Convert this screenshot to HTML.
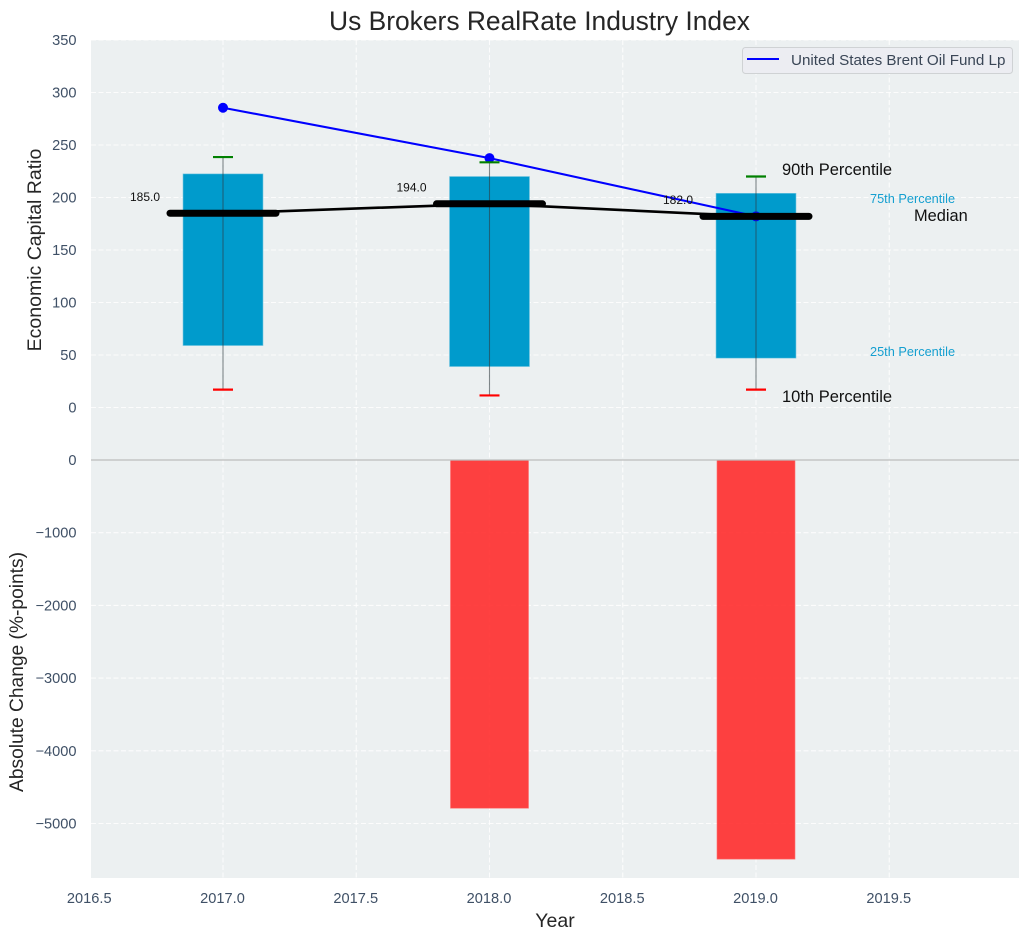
<!DOCTYPE html>
<html lang="en">
<head>
<meta charset="utf-8">
<title>Us Brokers RealRate Industry Index</title>
<style>
html,body{margin:0;padding:0;background:#fff;}
svg{display:block;font-family:"Liberation Sans",Arial,sans-serif;}
</style>
</head>
<body>
<svg id="chart" xmlns="http://www.w3.org/2000/svg" width="1029" height="940" viewBox="0 0 1029 940">
  <rect x="91" y="40" width="928" height="420" fill="#ecf0f1"/>
  <rect x="91" y="460" width="928" height="418" fill="#ecf0f1"/>
  <g id="grid"></g>
  <g id="bars"></g>
  <g id="changes"></g>
  <line x1="91" x2="1019" y1="460" y2="460" stroke="#bdbdbd" stroke-width="1.3"/>
  <g id="series"></g>
  <g id="whiskers"></g>
  <g id="medians"></g>
  <g id="ticks" font-size="14.6" fill="#3f5066"></g>
  <g id="values" font-size="12" fill="#111"></g>

  <text x="539.5" y="30" text-anchor="middle" font-size="26.4" fill="#262626">Us Brokers RealRate Industry Index</text>
  <text transform="translate(41 250) rotate(-90)" text-anchor="middle" font-size="19.5" fill="#262626">Economic Capital Ratio</text>
  <text transform="translate(23 672) rotate(-90)" text-anchor="middle" font-size="19.2" fill="#262626">Absolute Change (%-points)</text>
  <text x="555" y="927" text-anchor="middle" font-size="19.5" fill="#262626">Year</text>

  <text x="782" y="175" font-size="16.5" fill="#111">90th Percentile</text>
  <text x="870" y="203" font-size="12.75" fill="#159fd0">75th Percentile</text>
  <text x="914" y="221" font-size="16.4" fill="#111">Median</text>
  <text x="870" y="356" font-size="12.75" fill="#159fd0">25th Percentile</text>
  <text x="782" y="402" font-size="16.5" fill="#111">10th Percentile</text>

  <g>
    <rect x="742.5" y="47.5" width="270" height="26" rx="3" fill="#ecedf2" stroke="#cfd2d4" stroke-width="1"/>
    <line x1="747" x2="779" y1="59" y2="59" stroke="#0000ff" stroke-width="2"/>
    <text x="791" y="65" font-size="15.2" fill="#3a4656">United States Brent Oil Fund Lp</text>
  </g>
</svg>
<script>
const years = [2017, 2018, 2019];
const p90 = [238.5, 233.5, 220];
const p75 = [222.5, 220, 204];
const medianValues = [185, 194, 182];
const p25 = [59, 39, 47];
const p10 = [17, 11.5, 17];
const fundValues = [285.5, 237.5, 182];
const changeValues = [0, -4790, -5490];
const topTicks = [0, 50, 100, 150, 200, 250, 300, 350];
const bottomTicks = [0, -1000, -2000, -3000, -4000, -5000];
const xTicks = [2016.5, 2017, 2017.5, 2018, 2018.5, 2019, 2019.5];

const NS = 'http://www.w3.org/2000/svg';
const xScale = v => 223 + (v - 2017) * 266.5;
const yTop = v => 407.5 - v * 1.05;
const yBottom = v => 460 - v * 0.0727;
const make = (parent, tag, props, text) => {
  const el = document.createElementNS(NS, tag);
  for (const k in props) el.setAttribute(k, props[k]);
  if (text !== undefined) el.textContent = text;
  document.getElementById(parent).appendChild(el);
  return el;
};
const gridStyle = {stroke: '#ffffff', 'stroke-width': 1.1, 'stroke-dasharray': '5 2.5', opacity: 0.85};

xTicks.forEach(t => {
  const x = xScale(t);
  if (x >= 91) {
    let g = make('grid', 'line', {x1: x, x2: x, y1: 40, y2: 878, ...gridStyle});
    
    
  }
  let l = make('ticks', 'text', {x: x - 0.5, y: 903, 'text-anchor': 'middle'}, t.toFixed(1));
  
  
});
topTicks.forEach(t => {
  const y = yTop(t);
  let g = make('grid', 'line', {x1: 91, x2: 1019, y1: y, y2: y, ...gridStyle});
  
  
  let l = make('ticks', 'text', {x: 76.5, y: y + 5, 'text-anchor': 'end'}, String(t));
  
  
});
bottomTicks.forEach(t => {
  const y = yBottom(t);
  if (t !== 0) {
    let g = make('grid', 'line', {x1: 91, x2: 1019, y1: y, y2: y, ...gridStyle});
    
    
  }
  let l = make('ticks', 'text', {x: 76.5, y: y + 5, 'text-anchor': 'end'}, t === 0 ? '0' : '\u2212' + Math.abs(t));
  
  
});

years.forEach((yr, i) => {
  const x = xScale(yr);
  let b = make('bars', 'rect', {x: x - 40, width: 80, y: yTop(p75[i]), height: yTop(p25[i]) - yTop(p75[i]), fill: '#009bcc', stroke: '#7cc9e2', 'stroke-width': 0.6});
  
  
  if (changeValues[i] !== 0) {
    let c = make('changes', 'rect', {x: x - 39, width: 78, y: yBottom(0), height: yBottom(changeValues[i]) - yBottom(0), fill: '#ff2c2c', 'fill-opacity': 0.9, stroke: '#ff7070', 'stroke-width': 0.6});
    
    
  }
  let w = make('whiskers', 'line', {x1: x, x2: x, y1: yTop(p90[i]), y2: yTop(p10[i]), stroke: '#2e3a40', 'stroke-width': 1.1, 'stroke-opacity': 0.6});
  
  
  let hi = make('whiskers', 'line', {x1: x - 10, x2: x + 10, y1: yTop(p90[i]), y2: yTop(p90[i]), stroke: '#008000', 'stroke-width': 2.2});
  
  
  let lo = make('whiskers', 'line', {x1: x - 10, x2: x + 10, y1: yTop(p10[i]), y2: yTop(p10[i]), stroke: '#ff0000', 'stroke-width': 2.2});
  
  
  let m = make('medians', 'line', {x1: x - 53, x2: x + 53, y1: yTop(medianValues[i]), y2: yTop(medianValues[i]), stroke: '#000', 'stroke-width': 7, 'stroke-linecap': 'round'});
  
  
  let v = make('values', 'text', {x: x - 78, y: yTop(medianValues[i]) - 12.5, 'text-anchor': 'middle'}, medianValues[i].toFixed(1));
  
  
  let d = make('series', 'circle', {cx: x, cy: yTop(fundValues[i]), r: 5, fill: '#0000ff'});
  
  
});

let fundLine = make('series', 'polyline', {points: years.map((yr, i) => xScale(yr) + ',' + yTop(fundValues[i])).join(' '), fill: 'none', stroke: '#0000ff', 'stroke-width': 2.1});


let medianLine = make('medians', 'polyline', {points: years.map((yr, i) => xScale(yr) + ',' + yTop(medianValues[i])).join(' '), fill: 'none', stroke: '#000', 'stroke-width': 2.6});


</script>
</body>
</html>
